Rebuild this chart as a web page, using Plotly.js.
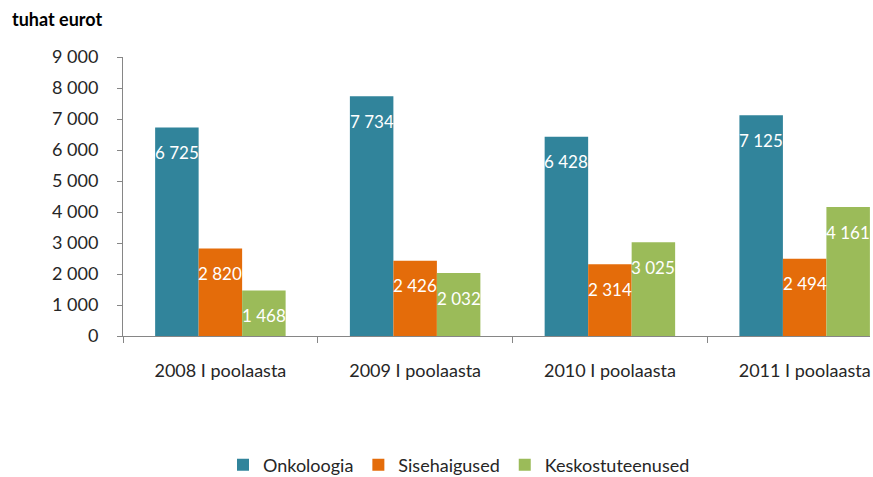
<!DOCTYPE html>
<html>
<head>
<meta charset="utf-8">
<script src="https://cdn.plot.ly/plotly-3.0.1.min.js"></script>
<style>html,body{margin:0;padding:0;background:#fff;}</style>
</head>
<body>
<div id="chart" style="width:873px;height:477px;"></div>
<script>
const categories = ["2008 I poolaasta", "2009 I poolaasta", "2010 I poolaasta", "2011 I poolaasta"];
const seriesNames = ["Onkoloogia", "Sisehaigused", "Keskostuteenused"];
const onkoloogia = [6725, 7734, 6428, 7125];
const sisehaigused = [2820, 2426, 2314, 2494];
const keskostuteenused = [1468, 2032, 3025, 4161];
const colors = ["#31849B", "#E46C0A", "#9BBB59"];
const yTickVals = [0, 1000, 2000, 3000, 4000, 5000, 6000, 7000, 8000, 9000];

const seriesValues = [onkoloogia, sisehaigused, keskostuteenused];
const FONT = "Lato, 'Open Sans', sans-serif";
const bargap = 0.33;

function fmt(v) { return String(v).replace(/\B(?=(\d{3})+(?!\d))/g, "\u00a0"); }

const traces = seriesValues.map((vals, i) => ({
  type: "bar",
  name: seriesNames[i],
  x: categories,
  y: vals,
  marker: { color: colors[i], line: { width: 0 } },
  hoverinfo: "none"
}));

const barW = (1 - bargap) / seriesValues.length;
const annotations = [];
seriesValues.forEach((vals, i) => {
  vals.forEach((v, j) => {
    annotations.push({
      x: j + (i - (seriesValues.length - 1) / 2) * barW,
      y: v,
      xref: "x", yref: "y",
      text: fmt(v),
      showarrow: false,
      yshift: -25,
      font: { family: FONT, size: 17, color: "#ffffff" }
    });
  });
});

const layout = {
  width: 873,
  height: 477,
  margin: { l: 123, r: 3, t: 57, b: 141 },
  paper_bgcolor: "#ffffff",
  plot_bgcolor: "#ffffff",
  separators: ", ",
  font: { family: FONT, size: 18, color: "#262626" },
  barmode: "group",
  bargap: bargap,
  bargroupgap: 0,
  title: {
    text: "<b>tuhat eurot</b>",
    xref: "container", yref: "container",
    x: 12 / 873, xanchor: "left",
    y: 1 - 20 / 477, yanchor: "middle",
    font: { family: FONT, size: 18, color: "#000000" }
  },
  xaxis: {
    type: "category",
    range: [-0.5, 3.3355],
    showline: true, linecolor: "#868686", linewidth: 1,
    ticks: "outside", tickson: "boundaries", ticklen: 6, tickcolor: "#868686",
    ticklabelstandoff: 18,
    showgrid: false, zeroline: false,
    tickfont: { family: FONT, size: 18, color: "#262626" }
  },
  yaxis: {
    range: [0, 9000],
    tickvals: yTickVals,
    tickformat: ",d",
    showline: true, linecolor: "#868686", linewidth: 1,
    ticks: "outside", ticklen: 5, tickcolor: "#868686",
    ticklabelstandoff: 15,
    showgrid: false, zeroline: false,
    tickfont: { family: FONT, size: 18, color: "#262626" }
  },
  legend: {
    orientation: "h",
    xref: "container", yref: "container",
    x: 223 / 873, xanchor: "left",
    y: 1 - 465 / 477, yanchor: "middle",
    font: { family: FONT, size: 18, color: "#262626" },
    itemclick: false, itemdoubleclick: false
  },
  showlegend: true,
  annotations: annotations
};

Plotly.newPlot("chart", traces, layout, { displayModeBar: false, staticPlot: true });
</script>
</body>
</html>
